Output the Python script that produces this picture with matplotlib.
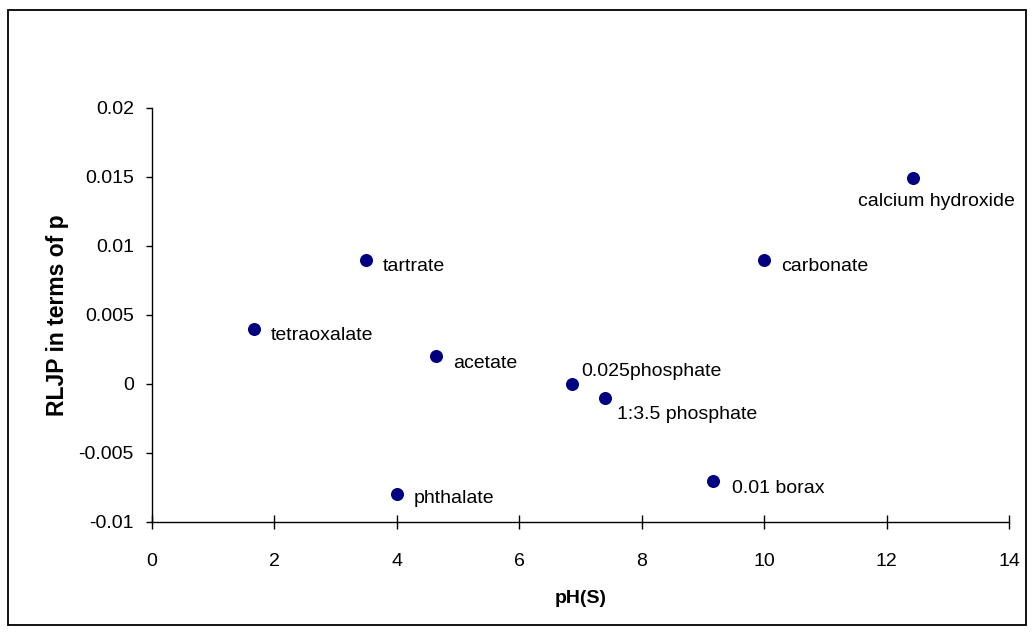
#!/usr/bin/env python3

import numpy as np
import matplotlib
matplotlib.use('Agg')
import matplotlib.pyplot as plt
from matplotlib.patches import Rectangle

plt.rcParams['font.family'] = ['Liberation Sans', 'DejaVu Sans']

# Data
buffers = ['tetraoxalate', 'tartrate', 'phthalate', 'acetate', '0.025phosphate',
           '1:3.5 phosphate', '0.01 borax', 'carbonate', 'calcium hydroxide']
ph_s = [1.67, 3.5, 4.0, 4.64, 6.86, 7.4, 9.16, 10.0, 12.43]
rljp = [0.004, 0.009, -0.008, 0.002, 0.0, -0.001, -0.007, 0.009, 0.0149]

# label offsets in points (dx, dy) and alignment
offsets = {
    'tetraoxalate': (12, -5, 'left'),
    'tartrate': (12, -5, 'left'),
    'phthalate': (12, -3, 'left'),
    'acetate': (12, -5, 'left'),
    '0.025phosphate': (7, 9, 'left'),
    '1:3.5 phosphate': (9, -12, 'left'),
    '0.01 borax': (14, -6, 'left'),
    'carbonate': (12, -5, 'left'),
    'calcium hydroxide': (17, -17, 'center'),
}

fs = 14

fig = plt.figure(figsize=(10.35, 6.35), dpi=100)
ax = fig.add_axes([152 / 1035, 1 - 522 / 635, 857 / 1035, 414 / 635])

# outer chart border
fig.patches.append(Rectangle((8 / 1035, 1 - 625 / 635), 1018 / 1035, 615 / 635,
                             transform=fig.transFigure, fill=False,
                             edgecolor='black', linewidth=1.3))

ax.scatter(ph_s, rljp, s=70, color='#000080', zorder=3)

for name, x, y in zip(buffers, ph_s, rljp):
    dx, dy, ha = offsets[name]
    ax.annotate(name, (x, y), xytext=(dx, dy), textcoords='offset points',
                ha=ha, va='center', fontsize=fs)

ax.set_xlim(0, 14)
ax.set_ylim(-0.01, 0.02)
ax.set_xticks(np.arange(0, 15, 2))
ax.set_yticks([-0.01, -0.005, 0, 0.005, 0.01, 0.015, 0.02])
ax.set_yticklabels(['-0.01', '-0.005', '0', '0.005', '0.01', '0.015', '0.02'])

for side in ['top', 'right']:
    ax.spines[side].set_visible(False)
for side in ['left', 'bottom']:
    ax.spines[side].set_linewidth(1.0)

ax.tick_params(axis='x', direction='inout', length=10, width=1.0, labelsize=fs, pad=17)
ax.tick_params(axis='y', direction='out', length=4.5, width=1.0, labelsize=fs, pad=8.5)

ax.set_xlabel('pH(S)', fontsize=fs, fontweight='bold', labelpad=15)
ax.set_ylabel('RLJP in terms of p', fontsize=16.5, fontweight='bold', labelpad=7)

fig.savefig('out.png', dpi=100)
